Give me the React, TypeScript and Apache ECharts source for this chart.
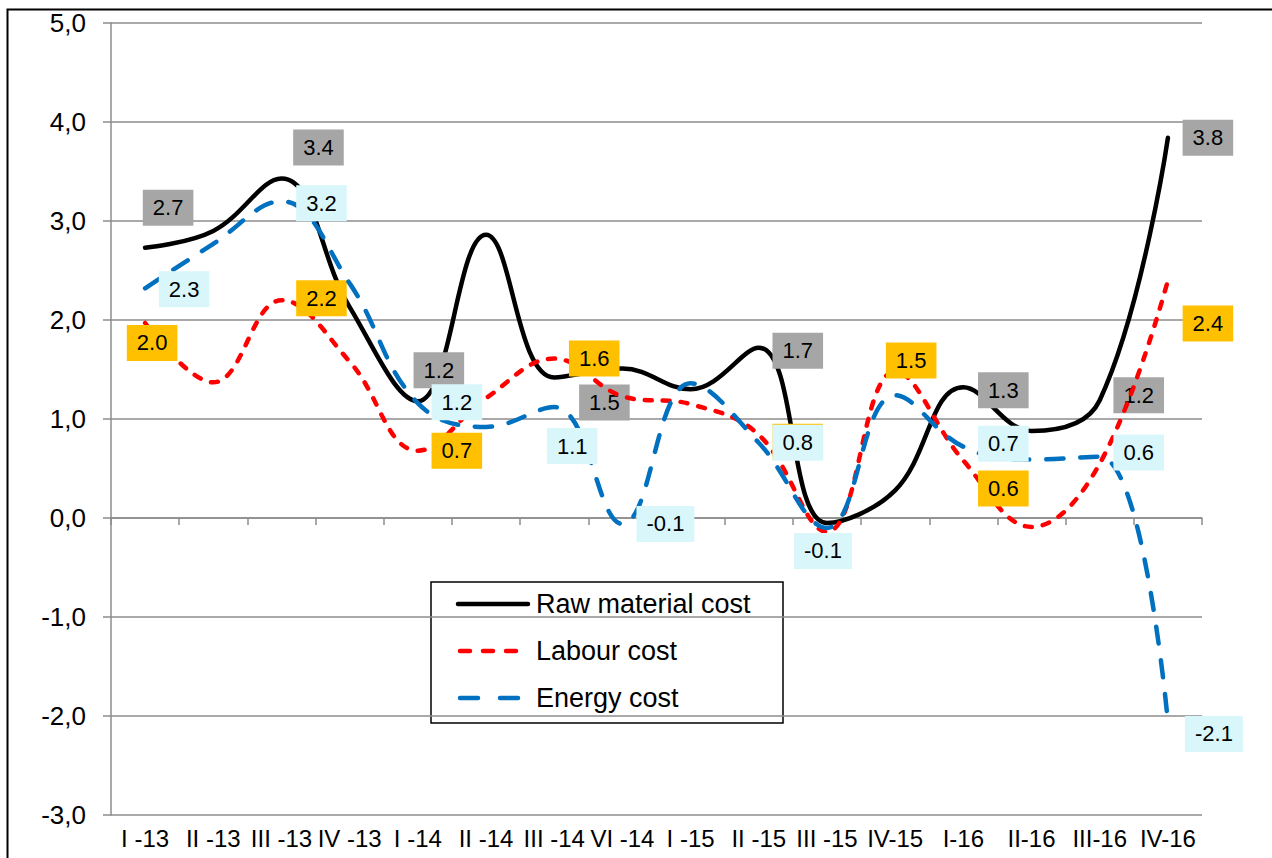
import React, { useEffect, useRef } from "react";
import * as echarts from "echarts";

const categories = ["I -13", "II -13", "III -13", "IV -13", "I -14", "II -14", "III -14", "VI -14", "I -15", "II -15", "III -15", "IV-15", "I-16", "II-16", "III-16", "IV-16"];
const rawMaterial = [2.73, 2.9, 3.43, 2.13, 1.18, 2.86, 1.42, 1.51, 1.3, 1.72, -0.05, 0.28, 1.32, 0.88, 1.19, 3.84];
const labour = [1.97, 1.37, 2.2, 1.58, 0.68, 1.21, 1.61, 1.23, 1.15, 0.84, -0.14, 1.48, 0.58, -0.09, 0.55, 2.4];
const energy = [2.32, 2.77, 3.2, 2.37, 1.16, 0.92, 1.12, -0.06, 1.36, 0.76, -0.1, 1.24, 0.72, 0.59, 0.62, -2.06];
const seriesNames = ["Raw material cost", "Labour cost", "Energy cost"];

// label placements (index -> pixel offset from the point)
const rawLabelOffsets: Record<number, number[]> = {
  0: [23, -40], 2: [37, -31], 4: [21, -31], 7: [-18, 34], 9: [39, 3], 12: [40, 3], 14: [39, -5], 15: [40, 0],
};
const labourLabelOffsets: Record<number, number[]> = {
  0: [7, 20], 2: [40, -2], 4: [39, 0], 6: [40, 0], 9: [39, 7], 11: [16, -11], 12: [40, 28], 15: [40, 43],
};
const energyLabelOffsets: Record<number, number[]> = {
  0: [39, 1], 2: [40, 2], 4: [39, -1], 6: [18, 39], 7: [43, 0], 9: [39, 0], 10: [-4, 23], 12: [40, -3], 14: [39, -4], 15: [46, 12],
};

const FONT = "'Liberation Sans', Arial, sans-serif";

function buildData(values: number[], offsets: Record<number, number[]>) {
  return values.map((v, i) =>
    offsets[i] ? { value: v, label: { show: true, offset: offsets[i] } } : { value: v, label: { show: false } }
  );
}

function labelStyle(bg: string) {
  return {
    show: false,
    position: "inside",
    formatter: (p: any) => Number(p.value).toFixed(1),
    fontFamily: FONT,
    fontSize: 22,
    lineHeight: 22,
    color: "#000",
    backgroundColor: bg,
    padding: [7, 10],
  };
}

export default function App() {
  const ref = useRef<HTMLDivElement>(null);
  useEffect(() => {
    document.body.style.margin = "0";
    const chart = echarts.init(ref.current!, undefined, { renderer: "svg" });
    const legendX = 431;
    const legendY = 582;
    const rows = [604, 651, 698];
    chart.setOption({
      animation: false,
      grid: { left: 111, right: 70, top: 23, bottom: 43 },
      xAxis: {
        type: "category",
        data: categories,
        boundaryGap: true,
        axisLine: { show: true, lineStyle: { color: "#8c8c8c", width: 1.5 } },
        axisTick: { show: true, inside: false, length: 7, lineStyle: { color: "#8c8c8c", width: 1.5 } },
        axisLabel: { interval: 0, margin: 11, color: "#000", fontFamily: FONT, fontSize: 24 },
        splitLine: { show: false },
      },
      yAxis: {
        type: "value",
        min: -3,
        max: 5,
        interval: 1,
        axisLine: { show: true, lineStyle: { color: "#8c8c8c", width: 1.5 } },
        axisTick: { show: true, length: 8, lineStyle: { color: "#8c8c8c", width: 1.5 } },
        axisLabel: {
          margin: 25,
          color: "#000",
          fontFamily: FONT,
          fontSize: 26,
          formatter: (v: number) => v.toFixed(1).replace(".", ","),
        },
        splitLine: { show: true, lineStyle: { color: "#8c8c8c", width: 1.5 } },
      },
      series: [
        {
          name: seriesNames[0],
          type: "line",
          data: buildData(rawMaterial, rawLabelOffsets),
          smooth: 0.4,
          symbol: "circle",
          symbolSize: 1,
          itemStyle: { color: "transparent", borderWidth: 0 },
          lineStyle: { color: "#000", width: 4.5, cap: "round" },
          label: labelStyle("#a6a6a6"),
          emphasis: { disabled: true },
          z: 2,
        },
        {
          name: seriesNames[1],
          type: "line",
          data: buildData(labour, labourLabelOffsets),
          smooth: 0.4,
          symbol: "circle",
          symbolSize: 1,
          itemStyle: { color: "transparent", borderWidth: 0 },
          lineStyle: { color: "#ff0000", width: 4.5, type: [7, 11], cap: "round" },
          label: labelStyle("#ffc000"),
          emphasis: { disabled: true },
          z: 3,
        },
        {
          name: seriesNames[2],
          type: "line",
          data: buildData(energy, energyLabelOffsets),
          smooth: 0.4,
          symbol: "circle",
          symbolSize: 1,
          itemStyle: { color: "transparent", borderWidth: 0 },
          lineStyle: { color: "#0070c0", width: 4.5, type: [17, 17], cap: "round" },
          label: labelStyle("#d9f7fb"),
          emphasis: { disabled: true },
          z: 4,
        },
      ],
      graphic: [
        {
          type: "rect",
          left: 5,
          top: 7,
          shape: { x: 0, y: 0, width: 1400, height: 1000 },
          style: { fill: "none", stroke: "#000", lineWidth: 2 },
          silent: true,
          z: 1,
        },
        {
          type: "group",
          x: legendX,
          y: legendY,
          z: 100,
          children: [
            {
              type: "rect",
              shape: { x: 0, y: 0, width: 352, height: 141 },
              style: { fill: "#fff", stroke: "#000", lineWidth: 1.5 },
            },
            {
              type: "line",
              shape: { x1: 458 - legendX, y1: rows[0] - legendY, x2: 528 - legendX, y2: rows[0] - legendY },
              style: { stroke: "#000", lineWidth: 4.5, lineCap: "round" },
            },
            {
              type: "line",
              shape: { x1: 460 - legendX, y1: rows[1] - legendY, x2: 528 - legendX, y2: rows[1] - legendY },
              style: { stroke: "#ff0000", lineWidth: 4.5, lineDash: [10, 13], lineCap: "round" },
            },
            {
              type: "line",
              shape: { x1: 460 - legendX, y1: rows[2] - legendY, x2: 528 - legendX, y2: rows[2] - legendY },
              style: { stroke: "#0070c0", lineWidth: 4.5, lineDash: [18, 22], lineCap: "round" },
            },
            ...seriesNames.map((name, i) => ({
              type: "text",
              x: 536 - legendX,
              y: rows[i] - legendY,
              style: {
                text: name,
                fill: "#000",
                font: `27px ${FONT}`,
                verticalAlign: "middle",
                align: "left",
              },
            })),
          ],
        },
      ],
    });
    return () => chart.dispose();
  }, []);
  return <div ref={ref} style={{ width: 1272, height: 858 }} />;
}
